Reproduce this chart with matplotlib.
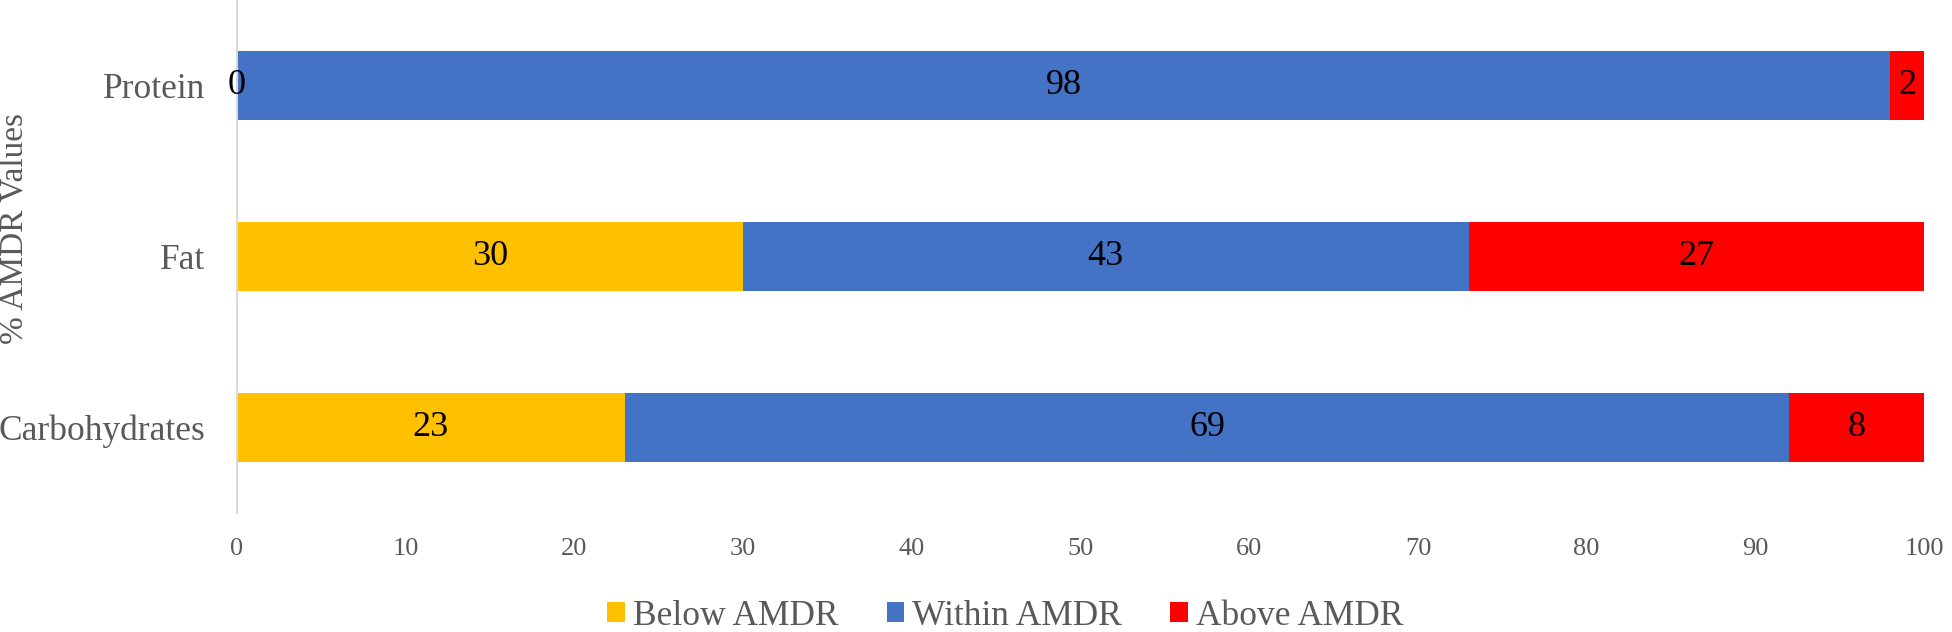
import matplotlib.pyplot as plt

plt.rcParams['font.family'] = ['Liberation Serif', 'DejaVu Serif']

categories = ["Carbohydrates", "Fat", "Protein"]
below = [23, 30, 0]
within = [69, 43, 98]
above = [8, 27, 2]

fig = plt.figure(figsize=(19.52, 6.32), dpi=100)
ax = fig.add_axes([0.1214, 0.188, 0.8643, 0.812])

gray = "#595959"
h = 0.40
b1 = ax.barh(categories, below, height=h, color="#FFC000", label="Below AMDR")
b2 = ax.barh(categories, within, height=h, left=below, color="#4472C4", label="Within AMDR")
left3 = [a + b for a, b in zip(below, within)]
b3 = ax.barh(categories, above, height=h, left=left3, color="#FF0000", label="Above AMDR")

for bars in (b1, b2, b3):
    ax.bar_label(bars, label_type="center", fontsize=26, color="black")

ax.set_xlim(0, 100)
ax.set_ylim(-0.5, 2.5)
ax.set_xticks(range(0, 101, 10))
ax.tick_params(axis="x", labelsize=19, colors=gray, length=0, pad=18)
ax.tick_params(axis="y", labelsize=25.5, colors=gray, length=0, pad=23)
for s in ["top", "right", "bottom"]:
    ax.spines[s].set_visible(False)
ax.spines["left"].set_color("#d9d9d9")
ax.spines["left"].set_linewidth(1.5)

fig.text(0.0077, 0.639, "% AMDR Values", rotation=90, fontsize=24, color=gray,
         va="center", ha="center")

fig.legend(loc="center", bbox_to_anchor=(0.515, 0.025), ncol=3, frameon=False,
           fontsize=25.5, labelcolor=gray, handlelength=0.5, handleheight=0.5,
           handletextpad=0.23, columnspacing=1.35, borderpad=0)

fig.savefig("out.png", dpi=100)
